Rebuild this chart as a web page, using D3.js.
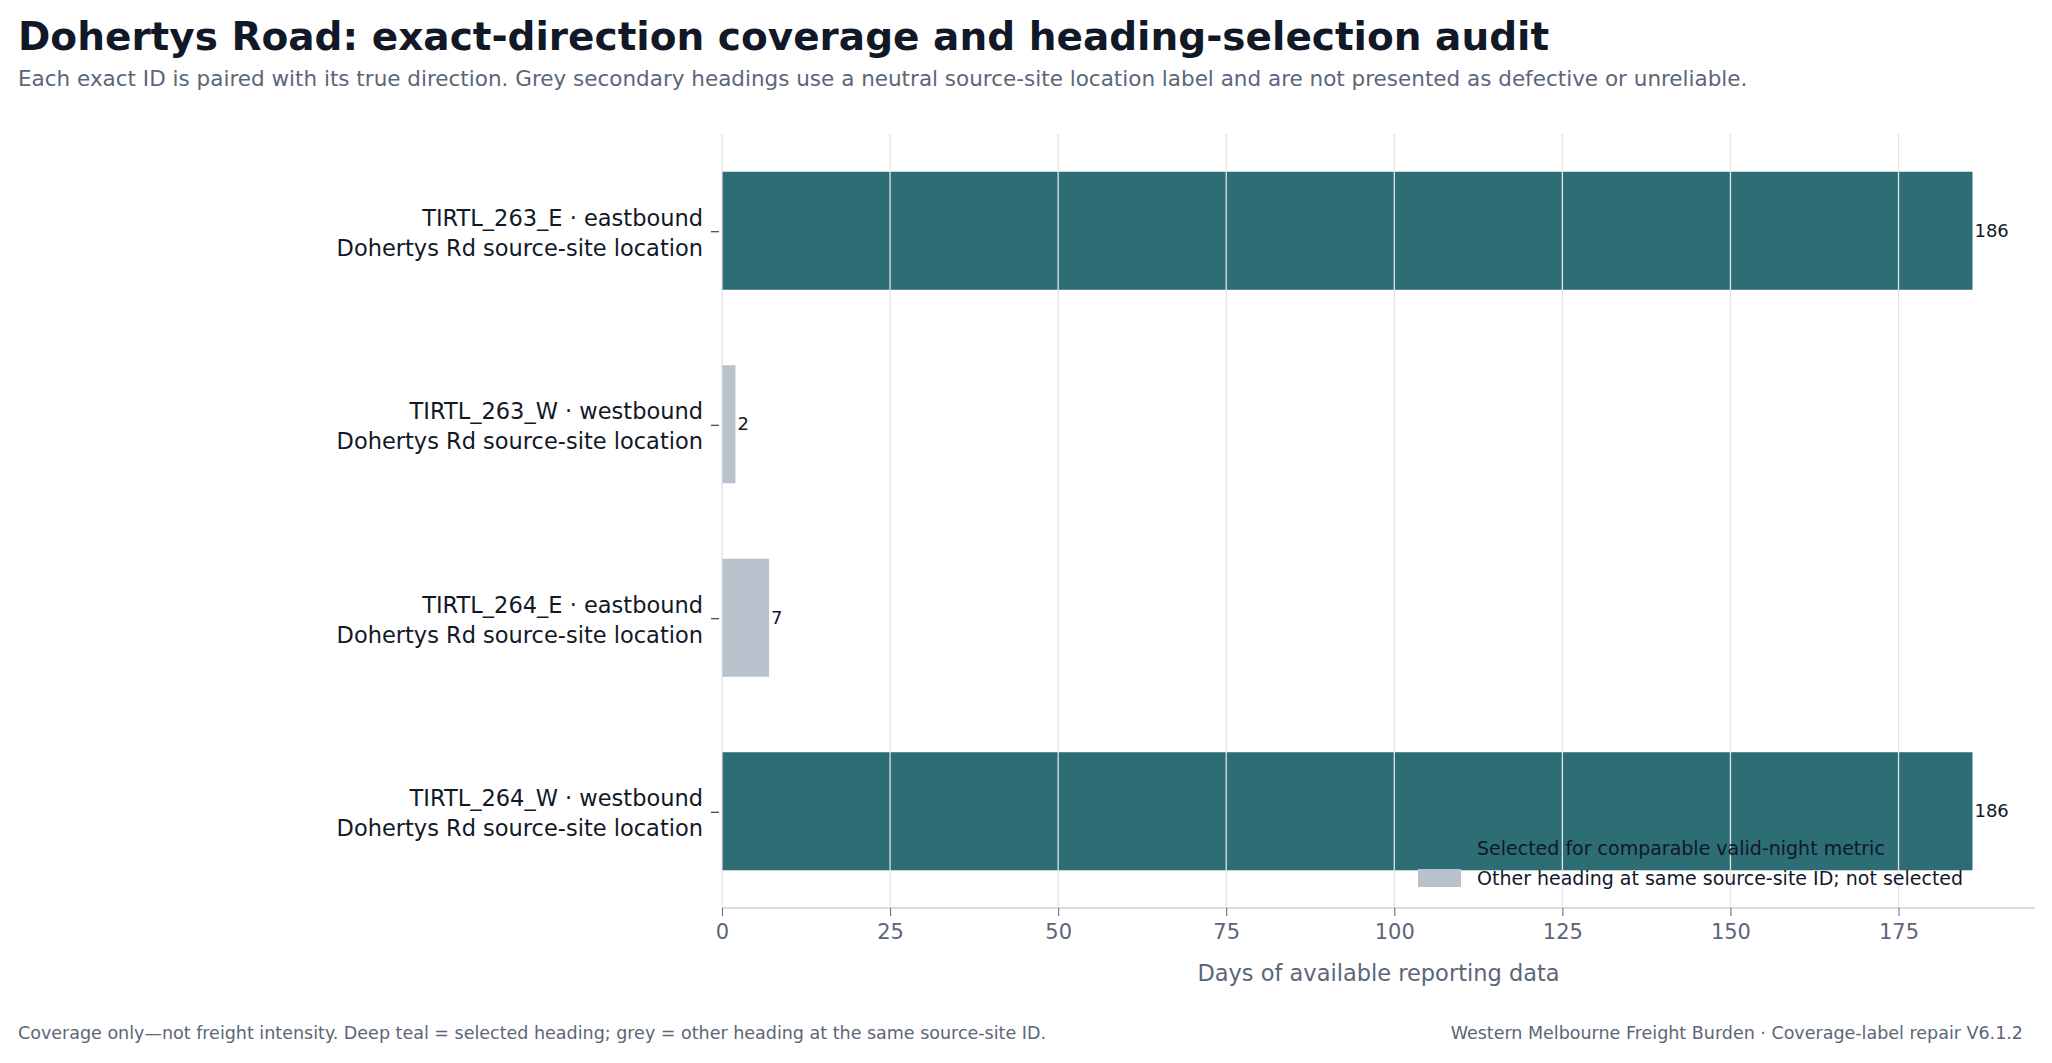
<!DOCTYPE html>
<html><head><meta charset="utf-8">
<script src="https://cdn.jsdelivr.net/npm/d3@7"></script>
<style>body{margin:0;background:#fff}text{font-family:"DejaVu Sans",sans-serif}</style>
</head><body><svg id="c" width="2052" height="1063"></svg>
<script>
const ids = ["TIRTL_263_E · eastbound","TIRTL_263_W · westbound","TIRTL_264_E · eastbound","TIRTL_264_W · westbound"];
const locs = ["Dohertys Rd source-site location","Dohertys Rd source-site location","Dohertys Rd source-site location","Dohertys Rd source-site location"];
const days = [186, 2, 7, 186];
const selected = [true, false, false, true];
const xTicks = [0,25,50,75,100,125,150,175];

const svg = d3.select("#c");
const TEAL="#2c6e74", GREY="#b8c2cc", DARK="#111827", MUTED="#5b6678";
const L=722, R=2035, T=134, B=908;
const x = d3.scaleLinear().domain([0,195.3]).range([L,R]);
const y = d3.scaleBand().domain(ids).range([T,B]).paddingInner(0.39).paddingOuter(0.195);

svg.append("text").attr("x",18).attr("y",50).attr("font-size",39).attr("font-weight","bold").attr("fill",DARK)
 .text("Dohertys Road: exact-direction coverage and heading-selection audit");
svg.append("text").attr("x",18).attr("y",86).attr("font-size",21.5).attr("fill",MUTED)
 .text("Each exact ID is paired with its true direction. Grey secondary headings use a neutral source-site location label and are not presented as defective or unreliable.");

svg.append("g").selectAll("rect").data(ids).join("rect")
 .attr("x",x(0)).attr("y",d=>y(d)).attr("height",y.bandwidth())
 .attr("width",(d,i)=>x(days[i])-x(0)).attr("fill",(d,i)=>selected[i]?TEAL:GREY);

svg.append("g").selectAll("line").data(xTicks).join("line")
 .attr("x1",d=>x(d)).attr("x2",d=>x(d)).attr("y1",T).attr("y2",B)
 .attr("stroke","#dfe3e8").attr("stroke-width",1.3);

svg.append("g").selectAll("text").data(ids).join("text")
 .attr("x",(d,i)=>x(days[i])+2).attr("y",d=>y(d)+y.bandwidth()/2+6)
 .attr("font-size",18).attr("fill",DARK).text((d,i)=>days[i]);

const ax = svg.append("g").attr("transform",`translate(0,${B})`)
 .call(d3.axisBottom(x).tickValues(xTicks).tickSize(8).tickPadding(8));
ax.select(".domain").attr("stroke","#cbd2da").attr("stroke-width",1.5).attr("d",`M${L},0H${R}`);
ax.selectAll(".tick line").attr("stroke",MUTED);
ax.selectAll(".tick text").attr("font-size",21).attr("fill",MUTED).attr("font-family","DejaVu Sans");

const yl = svg.append("g");
ids.forEach((d,i)=>{
  const cy = y(d)+y.bandwidth()/2;
  yl.append("line").attr("x1",711).attr("x2",719).attr("y1",cy+1).attr("y2",cy+1).attr("stroke",DARK);
  const t = yl.append("text").attr("text-anchor","end").attr("font-size",22.5).attr("fill",DARK);
  t.append("tspan").attr("x",703).attr("y",cy-5).text(d);
  t.append("tspan").attr("x",703).attr("y",cy+25).text(locs[i]);
});

svg.append("text").attr("x",(L+R)/2).attr("y",981).attr("text-anchor","middle").attr("font-size",22.5).attr("fill",MUTED)
 .text("Days of available reporting data");

const leg = [["Selected for comparable valid-night metric",TEAL],["Other heading at same source-site ID; not selected",GREY]];
leg.forEach((l,i)=>{
  svg.append("rect").attr("x",1418).attr("y",839+i*30).attr("width",43).attr("height",18).attr("fill",l[1]);
  svg.append("text").attr("x",1477).attr("y",855+i*30).attr("font-size",19).attr("fill",DARK).text(l[0]);
});

svg.append("text").attr("x",18).attr("y",1039).attr("font-size",17.5).attr("fill",MUTED)
 .text("Coverage only—not freight intensity. Deep teal = selected heading; grey = other heading at the same source-site ID.");
svg.append("text").attr("x",2023).attr("y",1039).attr("text-anchor","end").attr("font-size",17.5).attr("fill",MUTED)
 .text("Western Melbourne Freight Burden · Coverage-label repair V6.1.2");
</script></body></html>
